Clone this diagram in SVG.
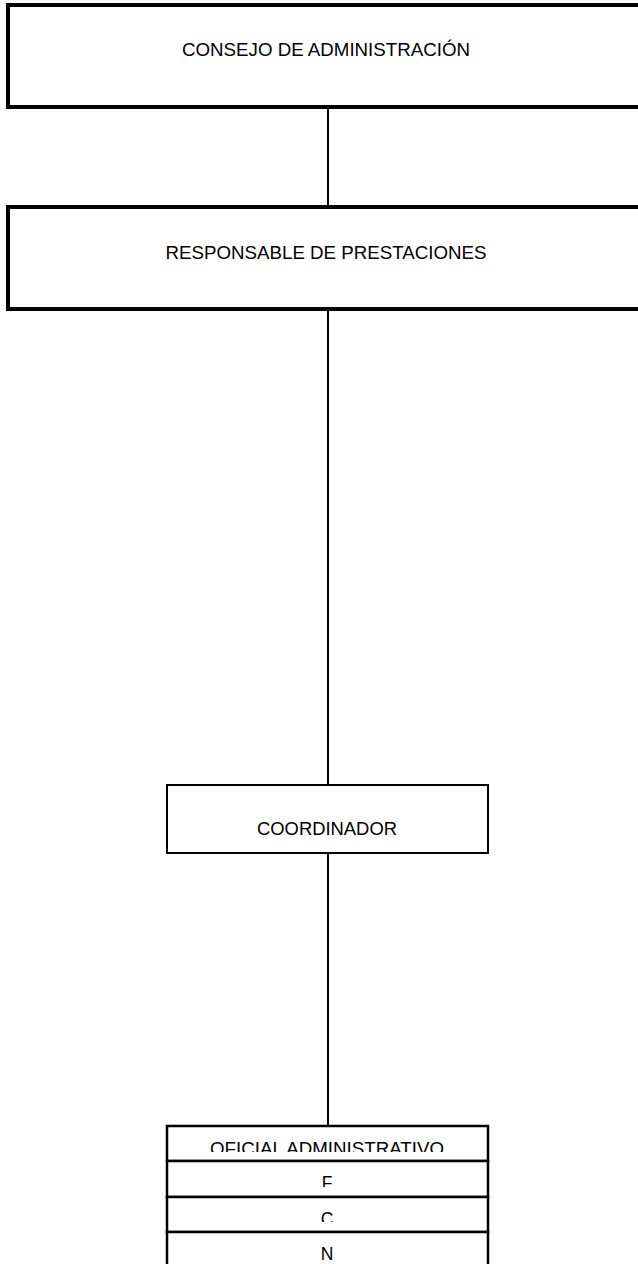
<svg xmlns="http://www.w3.org/2000/svg" width="638" height="1264" viewBox="0 0 638 1264">
<style>
.big{fill:#fff;stroke:#000;stroke-width:4}
.box{fill:#fff;stroke:#000;stroke-width:2}
.row{fill:#fff;stroke:#000;stroke-width:2.5}
.conn{stroke:#000;stroke-width:2;fill:none}
text{font-family:"Liberation Sans",Arial,sans-serif;font-size:17.5px;fill:#000;text-anchor:middle}
</style>
<defs>
<clipPath id="c0"><rect x="167" y="1126" width="322" height="26"/></clipPath>
<clipPath id="c1"><rect x="167" y="1161" width="322" height="26"/></clipPath>
<clipPath id="c2"><rect x="167" y="1197" width="322" height="25"/></clipPath>
<clipPath id="c3"><rect x="167" y="1232" width="322" height="32"/></clipPath>
</defs>
<rect width="638" height="1264" fill="#fff"/>
<g id="connectors">
<line class="conn" x1="328" y1="107" x2="328" y2="207"/>
<line class="conn" x1="328" y1="309" x2="328" y2="785"/>
<line class="conn" x1="328" y1="853" x2="328" y2="1126"/>
</g>
<g id="consejo">
<rect class="big" x="8" y="5" width="640" height="102"/>
<text x="326" y="56" textLength="288" lengthAdjust="spacingAndGlyphs">CONSEJO DE ADMINISTRACIÓN</text>
</g>
<g id="responsable">
<rect class="big" x="8" y="207" width="640" height="102"/>
<text x="326" y="259" textLength="321" lengthAdjust="spacingAndGlyphs">RESPONSABLE DE PRESTACIONES</text>
</g>
<g id="coordinador">
<rect class="box" x="167" y="785" width="321" height="68"/>
<text x="327" y="835" textLength="140" lengthAdjust="spacingAndGlyphs">COORDINADOR</text>
</g>
<g id="oficial">
<rect class="row" x="167" y="1126" width="321" height="35"/>
<rect class="row" x="167" y="1161" width="321" height="36"/>
<rect class="row" x="167" y="1197" width="321" height="35"/>
<rect class="row" x="167" y="1232" width="321" height="40"/>
<text x="327" y="1155" textLength="234" lengthAdjust="spacingAndGlyphs" clip-path="url(#c0)">OFICIAL ADMINISTRATIVO</text>
<text x="327" y="1189" clip-path="url(#c1)">F</text>
<text x="327" y="1225" clip-path="url(#c2)">C</text>
<text x="327" y="1260" clip-path="url(#c3)">N</text>
</g>
</svg>
